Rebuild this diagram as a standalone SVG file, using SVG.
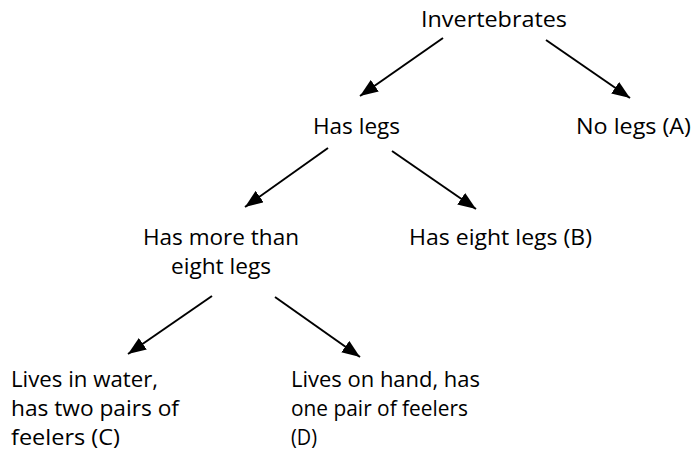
<svg xmlns="http://www.w3.org/2000/svg" width="694" height="458" viewBox="0 0 694 458">
<defs>
<style>
text{font-family:"Open Sans","Liberation Sans",sans-serif;font-size:22.5px;fill:#000}
.c line{stroke:#000;stroke-width:2;marker-end:url(#ah)}
</style>
<marker id="ah" viewBox="0 0 18 14" refX="18" refY="7" markerWidth="18" markerHeight="14" markerUnits="userSpaceOnUse" orient="auto">
<path d="M0,0 L18,7 L0,14 z" fill="#000"/>
</marker>
</defs>
<rect width="694" height="458" fill="#fff"/>
<g class="c" id="connectors">
<line x1="443" y1="38" x2="360" y2="96"/>
<line x1="546" y1="40" x2="630" y2="98"/>
<line x1="328" y1="148" x2="245" y2="207"/>
<line x1="392" y1="151" x2="476" y2="209"/>
<line x1="212" y1="296" x2="128" y2="354"/>
<line x1="275" y1="297" x2="360" y2="357"/>
</g>
<g id="invertebrates"><text x="421" y="27" textLength="146" lengthAdjust="spacingAndGlyphs">Invertebrates</text></g>
<g id="has-legs"><text x="313" y="134" textLength="87" lengthAdjust="spacingAndGlyphs">Has legs</text></g>
<g id="no-legs"><text x="576" y="134" textLength="115" lengthAdjust="spacingAndGlyphs">No legs (A)</text></g>
<g id="more-than-eight"><text x="143" y="245" textLength="156" lengthAdjust="spacingAndGlyphs">Has more than</text><text x="171" y="274" textLength="100" lengthAdjust="spacingAndGlyphs">eight legs</text></g>
<g id="eight-legs"><text x="409" y="245" textLength="183" lengthAdjust="spacingAndGlyphs">Has eight legs (B)</text></g>
<g id="c"><text x="11" y="387" textLength="147" lengthAdjust="spacingAndGlyphs">Lives in water,</text><text x="11" y="416" textLength="168" lengthAdjust="spacingAndGlyphs">has two pairs of</text><text x="11" y="445" textLength="109" lengthAdjust="spacingAndGlyphs">feelers (C)</text></g>
<g id="d"><text x="291" y="387" textLength="189" lengthAdjust="spacingAndGlyphs">Lives on hand, has</text><text x="291" y="416" textLength="177" lengthAdjust="spacingAndGlyphs">one pair of feelers</text><text x="291" y="445" textLength="26" lengthAdjust="spacingAndGlyphs">(D)</text></g>
</svg>
